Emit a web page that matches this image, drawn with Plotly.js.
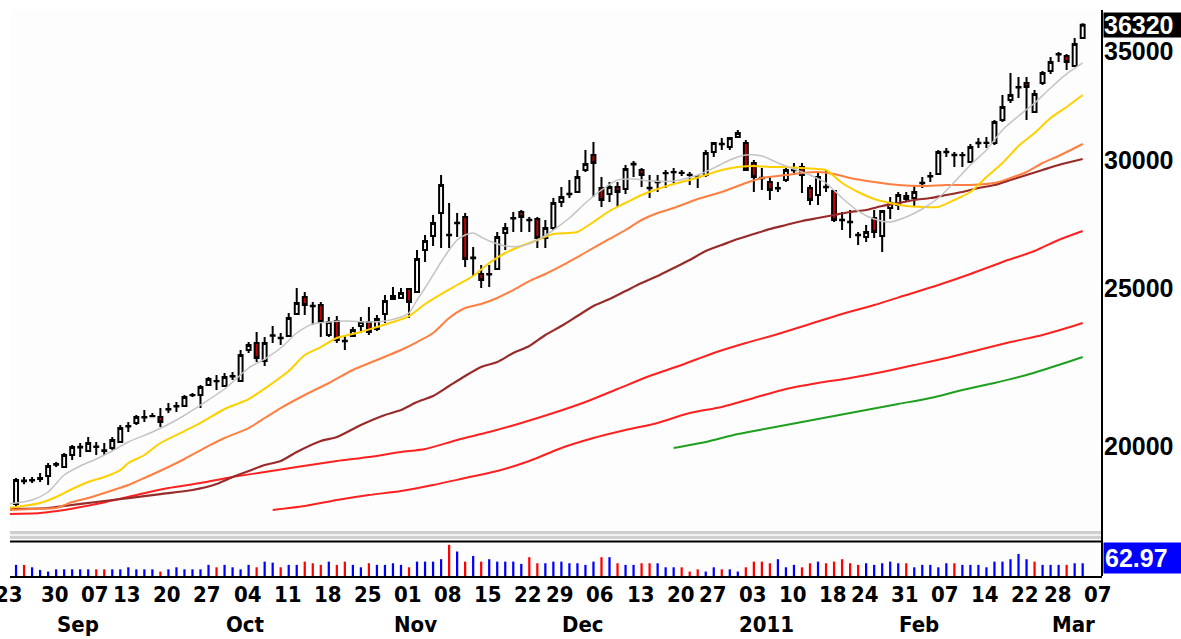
<!DOCTYPE html>
<html><head><meta charset="utf-8">
<script src="https://cdn.plot.ly/plotly-3.0.1.min.js"></script>
<style>html,body{margin:0;padding:0;background:#fff}#chart{width:1181px;height:639px}</style>
</head><body><div id="chart"></div>
<script>
// ---- calendar ----
const firstDay = '2010-08-23', lastDay = '2011-03-07';
const holidays = ['2010-09-06','2010-11-25','2010-12-24','2011-01-17','2011-02-21'];
function buildDays(){
  const out=[]; const d=new Date(firstDay+'T00:00:00Z'); const end=new Date(lastDay+'T00:00:00Z');
  while(d<=end){ const wd=d.getUTCDay(); const s=d.toISOString().slice(0,10);
    if(wd!==0 && wd!==6 && !holidays.includes(s)) out.push(s);
    d.setUTCDate(d.getUTCDate()+1); }
  return out;
}
const days = buildDays();
const dayIdx = s => days.indexOf(s);

// ---- tick labels ----
const tickDates = ['2010-08-23','2010-08-30','2010-09-07','2010-09-13','2010-09-20','2010-09-27','2010-10-04','2010-10-11','2010-10-18','2010-10-25','2010-11-01','2010-11-08','2010-11-15','2010-11-22','2010-11-29','2010-12-06','2010-12-13','2010-12-20','2010-12-27','2011-01-03','2011-01-10','2011-01-18','2011-01-24','2011-01-31','2011-02-07','2011-02-14','2011-02-22','2011-02-28','2011-03-07'];
const tickText = ['23','30','07','13','20','27','04','11','18','25','01','08','15','22','29','06','13','20','27','03','10','18','24','31','07','14','22','28','07'];
const monthDates = ['2010-09-01','2010-10-01','2010-11-01','2010-12-01','2011-01-03','2011-02-01','2011-03-01'];
const monthText = ['Sep','Oct','Nov','Dec','2011','Feb','Mar'];
const priceTicks = [20000,25000,30000,35000];
const lastPrice = 36320;
const lastVolumeLabel = '62.97';

// ---- candles (from 2010-08-25) ----
const candleFirst = '2010-08-25';
const open = [18425,19030,19060,19090,19170,19480,19416,19749,19960,19861,19990,19880,19946,20116,20560,20665,20830,20860,20840,21060,21150,21168,21490,21501,21807,21920,21777,22070,21931,22916,23143,22561,23380,23320,23375,24114,24702,24400,24424,23408,23876,23220,23375,23708,23843,23608,24114,24737,24667,24983,24877,26403,26932,27824,26980,27420,27667,26120,25520,25500,25702,27047,27610,27863,27560,27588,26856,27239,28260,28570,28664,29570,30206,28827,28583,28867,28786,29800,29570,28840,29060,29430,29480,29460,29370,29290,29362,30335,30670,30550,30987,30724,29866,29250,29072,28810,29155,29560,29696,28827,28542,28880,28704,27560,27480,26980,26894,27627,26932,28022,28141,28502,28421,29020,29300,29404,30320,30220,30200,29908,30710,30720,30724,31741,32653,33240,33449,32103,33449,34023,34830,34752,34264,35651];
const high = [19115,19140,19140,19250,19526,19554,19805,20030,20087,20259,20116,20087,20259,20606,20694,20900,21048,20960,21108,21258,21288,21501,21562,21807,22056,22118,22181,22212,22916,23177,23507,23341,23707,23474,24149,25019,24877,24528,24528,24012,24046,23408,23675,24012,24354,24080,24772,25054,25019,25019,26403,26970,27745,29362,28220,27824,27824,26516,25848,25848,27085,27433,27863,27942,27667,27667,27549,28421,28867,29155,29570,30420,30767,29279,29072,29072,29781,29950,29654,29362,29362,29570,29654,29570,29487,29362,30420,30767,30943,30987,31295,30855,29993,29654,29279,29072,29696,29866,29866,28949,29445,29570,28745,27863,27942,27085,27354,27942,27942,28462,28664,28664,28949,29279,29487,30420,30507,30335,30335,30680,30943,30987,31741,32885,33930,33733,33733,33119,34023,34704,34950,34851,35651,36400];
const low = [18373,18950,18980,19010,18927,19416,19416,19609,19693,19833,19749,19749,19889,20087,20402,20606,20694,20840,20547,20958,20988,21138,21440,21108,21777,21653,21746,21962,21900,22819,22529,22402,23143,23079,23341,24080,24080,23742,23341,23341,23143,22916,23341,23474,23408,23541,23809,24632,24632,23978,24842,25958,26554,26478,26478,26894,25775,25448,25019,25054,25665,26403,27085,27085,27085,26478,26478,27161,28062,28421,28623,29487,28462,28062,28260,28062,28583,29279,28867,28421,28664,28827,29031,29320,28949,28827,29279,30121,30420,30420,30943,29529,28664,28745,28340,28664,29072,29362,28623,28141,28141,28664,27471,27161,26856,26591,26704,26856,26329,27588,27942,28260,28062,28827,29072,29362,30121,29696,29696,29866,30507,30507,30637,31651,32514,32746,31741,32103,33354,33880,34462,34071,34216,35651];
const close = [19061,19050,19050,19115,19443,19500,19749,19974,19980,20087,19975,19860,20173,20518,20580,20840,20840,20870,20694,21080,21170,21440,21500,21746,21993,21930,22056,22090,22754,23079,22657,23143,23400,23300,23978,24493,24424,24380,23843,23843,23242,23200,23574,23843,23507,23944,24562,24632,24842,24528,26068,26742,27433,28950,26960,27440,26068,26100,25304,25520,26894,27239,27630,27667,27540,26856,27239,28220,28462,28590,29279,29822,29866,28340,28867,28664,29612,29830,29362,28820,29080,29450,29490,29450,29360,29280,30292,30724,30690,30943,31163,29570,29279,29230,28745,28830,29570,29580,29362,28340,29279,28860,27549,27540,27460,26960,27085,27085,27902,28220,28542,28380,28664,29040,29320,30335,30340,30200,30210,30550,30730,30730,31651,32333,32885,33260,33260,32932,33927,34462,34850,34459,35347,36320];
const volume = [55,55,43,30,22,33,33,33,33,33,33,33,33,33,43,33,33,33,22,33,43,33,33,33,55,43,55,43,33,55,43,71,66,43,55,55,71,63,55,71,55,71,55,43,63,55,55,63,55,43,71,71,71,83,154,121,71,99,71,83,71,71,71,60,93,63,63,71,71,63,63,55,71,93,93,63,55,55,63,63,63,43,43,43,22,33,22,43,33,33,22,43,71,71,63,83,43,55,43,63,71,63,71,83,63,55,63,55,63,71,63,63,43,55,55,43,63,63,55,55,55,43,71,71,83,109,83,71,55,55,55,55,63,62.97];

// ---- moving averages (trading-day index, value) ----
const grayDay = [1,4,6,8,10,12,14,16,19,22,25,28,31,33,35,37,39,41,43,46,48,50,51,52,53,54,55,56,57,58,59,60,61,63,65,67,69,71,73,75,77,79,81,84,87,89,91,93,95,97,99,101,103,105,107,109,111,113,115,117,119,121,123,125,127,129,131,133,135];
const grayVal = [18425,18529,18740,19197,19444,19637,19861,20116,20402,20752,21198,21684,22339,22625,22981,23474,23776,23843,23876,23843,23876,24012,24149,24597,25019,25484,25958,26403,26780,26970,27047,26894,26742,26554,26554,26780,27161,27627,28220,28745,29155,29196,29114,29114,29362,29654,29993,30206,30163,29866,29612,29362,29031,28421,27902,27588,27471,27667,27982,28421,29072,29781,30420,31295,31921,32514,33213,33880,34414];
const yellowDay = [1,5,7,9,11,13,15,16,18,20,23,25,28,31,34,36,38,40,42,45,47,49,51,53,55,57,59,61,63,65,67,69,71,72,74,76,78,80,82,84,86,88,90,92,94,96,98,100,102,103,105,107,109,111,113,115,117,119,121,123,125,127,129,131,133,135];
const yellowVal = [18321,18451,18608,18820,19007,19143,19333,19526,19749,20087,20431,20665,21078,21379,21869,22243,22754,23013,23308,23507,23675,23843,24046,24458,24807,25126,25448,25921,26291,26554,26780,27008,27047,27085,27471,27902,28220,28542,28786,28990,29155,29362,29570,29696,29739,29696,29696,29654,29612,29570,29031,28664,28380,28220,28101,28062,28062,28340,28664,29279,29866,30594,31163,31830,32333,32885];
const orangeDay = [1,4,7,9,11,13,16,18,21,23,26,28,31,33,35,38,41,44,47,50,52,54,56,58,60,62,64,66,68,70,72,74,76,78,80,82,84,87,90,93,95,98,100,102,104,106,109,112,115,118,121,124,126,128,130,132,135];
const orangeVal = [18269,18295,18321,18477,18581,18713,18927,19115,19416,19637,20003,20230,20518,20811,21108,21501,21869,22275,22593,22916,23175,23474,23978,24320,24458,24667,24948,25268,25520,25812,26142,26478,26818,27161,27549,27824,28022,28380,28664,29031,29238,29362,29445,29487,29404,29238,29072,28949,28908,28949,28949,29031,29238,29487,29866,30163,30680];
const maroonDay = [1,6,8,12,16,20,24,27,29,31,33,35,37,40,42,45,48,50,52,54,56,58,60,62,64,66,68,70,72,74,76,78,80,82,84,86,88,90,92,94,96,98,100,102,104,106,108,110,112,114,116,118,120,122,124,126,128,130,132,135];
const maroonVal = [18295,18321,18373,18477,18581,18686,18793,18954,19143,19306,19470,19581,19833,20144,20259,20606,20900,21048,21288,21470,21777,22087,22370,22529,22819,23046,23408,23708,24046,24389,24632,24912,25196,25448,25738,26031,26366,26591,26818,27008,27200,27354,27510,27627,27745,27863,27942,28101,28220,28340,28421,28542,28664,28827,28949,29155,29362,29570,29781,30036];
const red1Day = [1,5,8,12,17,21,25,29,33,37,42,46,50,53,57,61,65,69,73,77,81,85,89,93,97,101,105,109,113,117,121,125,129,132,135];
const red1Val = [18166,18192,18269,18425,18660,18846,18980,19143,19279,19416,19581,19693,19833,19917,20173,20402,20665,20958,21288,21684,22087,22433,22819,23143,23441,23776,24114,24424,24772,25126,25520,25958,26366,26780,27123];
const red2Day = [34,38,42,46,50,54,58,62,66,70,74,78,82,86,90,94,98,102,106,110,114,118,122,126,130,133,135];
const red2Val = [18269,18373,18529,18660,18767,18927,19115,19306,19581,19946,20230,20460,20665,20958,21138,21410,21684,21869,22025,22212,22433,22657,22916,23175,23408,23641,23809];
const greenDay = [84,88,92,96,100,104,108,112,116,120,124,128,132,135];
const greenVal = [19946,20116,20345,20518,20694,20870,21048,21229,21410,21653,21869,22118,22433,22690];

// ---- build ----
const c0 = dayIdx(candleFirst);
const cx = open.map((_, k) => c0 + k);
const volColors = close.map((c, k) => (k > 0 && c < close[k-1]) ? '#ff0000' : '#0000ff');
const XR = [1.247, 137.41];

function ma(xs, ys, color, w){ return {type:'scatter', mode:'lines', x:xs, y:ys, xaxis:'x', yaxis:'y', line:{color:color, width:w, shape:'spline', smoothing:0.7}, hoverinfo:'skip'}; }

const traces = [
  ma(red2Day, red2Val, '#ff2020', 2),
  ma(greenDay, greenVal, '#1f9f1f', 2),
  ma(red1Day, red1Val, '#ff2020', 2),
  ma(maroonDay, maroonVal, '#992a2a', 2.2),
  ma(orangeDay, orangeVal, '#ff7f40', 2),
  ma(yellowDay, yellowVal, '#ffd000', 2),
  ma(grayDay, grayVal, '#c4c4c4', 1.5),
  {type:'candlestick', x:cx, open:open, high:high, low:low, close:close, xaxis:'x', yaxis:'y',
   increasing:{line:{color:'#000000', width:2}, fillcolor:'#ffffff'},
   decreasing:{line:{color:'#000000', width:2}, fillcolor:'#c80000'},
   whiskerwidth:0, hoverinfo:'skip'},
  {type:'bar', x:cx, y:volume, xaxis:'x', yaxis:'y2', width:0.28, marker:{color:volColors, line:{width:0}}, hoverinfo:'skip'}
];

const H = 639, T = 10, B = 63, PH = H - T - B;
const py = p => (H - B - p) / PH;           // pixel row -> paper y
const lblFont = {family:'Liberation Sans Narrow, DejaVu Sans Condensed, Arial Narrow, sans-serif', size:22, color:'#000', weight:'bold'};
const axFont = {family:'Liberation Sans, Arial, sans-serif', size:25, color:'#000', weight:'bold'};

const annotations = [];
tickDates.forEach((d, k) => {
  const xi = dayIdx(d);
  if (xi < XR[0]) {
    annotations.push({xref:'paper', x:(xi - XR[0]) / (XR[1] - XR[0]), xanchor:'left', xshift:-6, yref:'paper', y:py(594), yanchor:'middle', text:tickText[k], showarrow:false, borderpad:0, font:lblFont});
  } else {
    annotations.push({xref:'x', x:xi, xanchor:'left', yref:'paper', y:py(594), yanchor:'middle', text:tickText[k], showarrow:false, borderpad:0, font:lblFont});
  }
});
monthDates.forEach((d, k) => annotations.push({xref:'x', x:dayIdx(d), xanchor:'left', yref:'paper', y:py(624), yanchor:'middle', text:monthText[k], showarrow:false, borderpad:0, font:lblFont}));
annotations.push({xref:'paper', x:1, xanchor:'left', xshift:1, yref:'y', y:Math.log10(lastPrice), yanchor:'middle', text:String(lastPrice), showarrow:false, bgcolor:'#000000', borderpad:0, width:78, height:24, align:'left', font:Object.assign({}, axFont, {color:'#ffffff'})});
annotations.push({xref:'paper', x:1, xanchor:'left', xshift:1, yref:'paper', y:py(557.5), yanchor:'middle', text:lastVolumeLabel, showarrow:false, bgcolor:'#0000ff', borderpad:1, width:78, height:28, align:'left', font:Object.assign({}, axFont, {color:'#ffffff'})});

const shapes = [
  {type:'rect', xref:'paper', yref:'paper', x0:0, x1:1, y0:py(539), y1:py(531), fillcolor:'#cfcfcf', line:{width:0}},
  {type:'line', xref:'paper', yref:'paper', x0:0, x1:1, y0:py(535), y1:py(535), line:{color:'#f2f2f2', width:2}},
  {type:'line', xref:'paper', yref:'paper', x0:0, x1:1, y0:py(541.5), y1:py(541.5), line:{color:'#000000', width:2}},
  {type:'line', xref:'paper', yref:'paper', x0:1, x1:1, y0:0, y1:1, line:{color:'#000000', width:2}}
];

const layout = {
  width:1181, height:H, margin:{l:10, r:79, t:T, b:B, pad:0},
  paper_bgcolor:'#ffffff', plot_bgcolor:'#fdfdfd', showlegend:false, dragmode:false,
  xaxis:{range:XR, anchor:'y2', showgrid:false, zeroline:false, showticklabels:false, ticks:'', showline:true, linecolor:'#000', linewidth:2, rangeslider:{visible:false}, fixedrange:true},
  yaxis:{type:'log', domain:[py(533), 1], range:[4.247562, 4.569289], side:'right', anchor:'x', showgrid:false, zeroline:false, showline:false,
         tickmode:'array', tickvals:priceTicks, ticktext:priceTicks.map(String), ticks:'', ticklabelstandoff:1, tickfont:axFont, fixedrange:true},
  yaxis2:{domain:[0, py(542)], range:[0, 168], side:'right', anchor:'x', showgrid:false, zeroline:false, showline:false, showticklabels:false, ticks:'', fixedrange:true},
  annotations:annotations, shapes:shapes
};

Plotly.newPlot('chart', traces, layout, {displayModeBar:false, staticPlot:true});
</script></body></html>
